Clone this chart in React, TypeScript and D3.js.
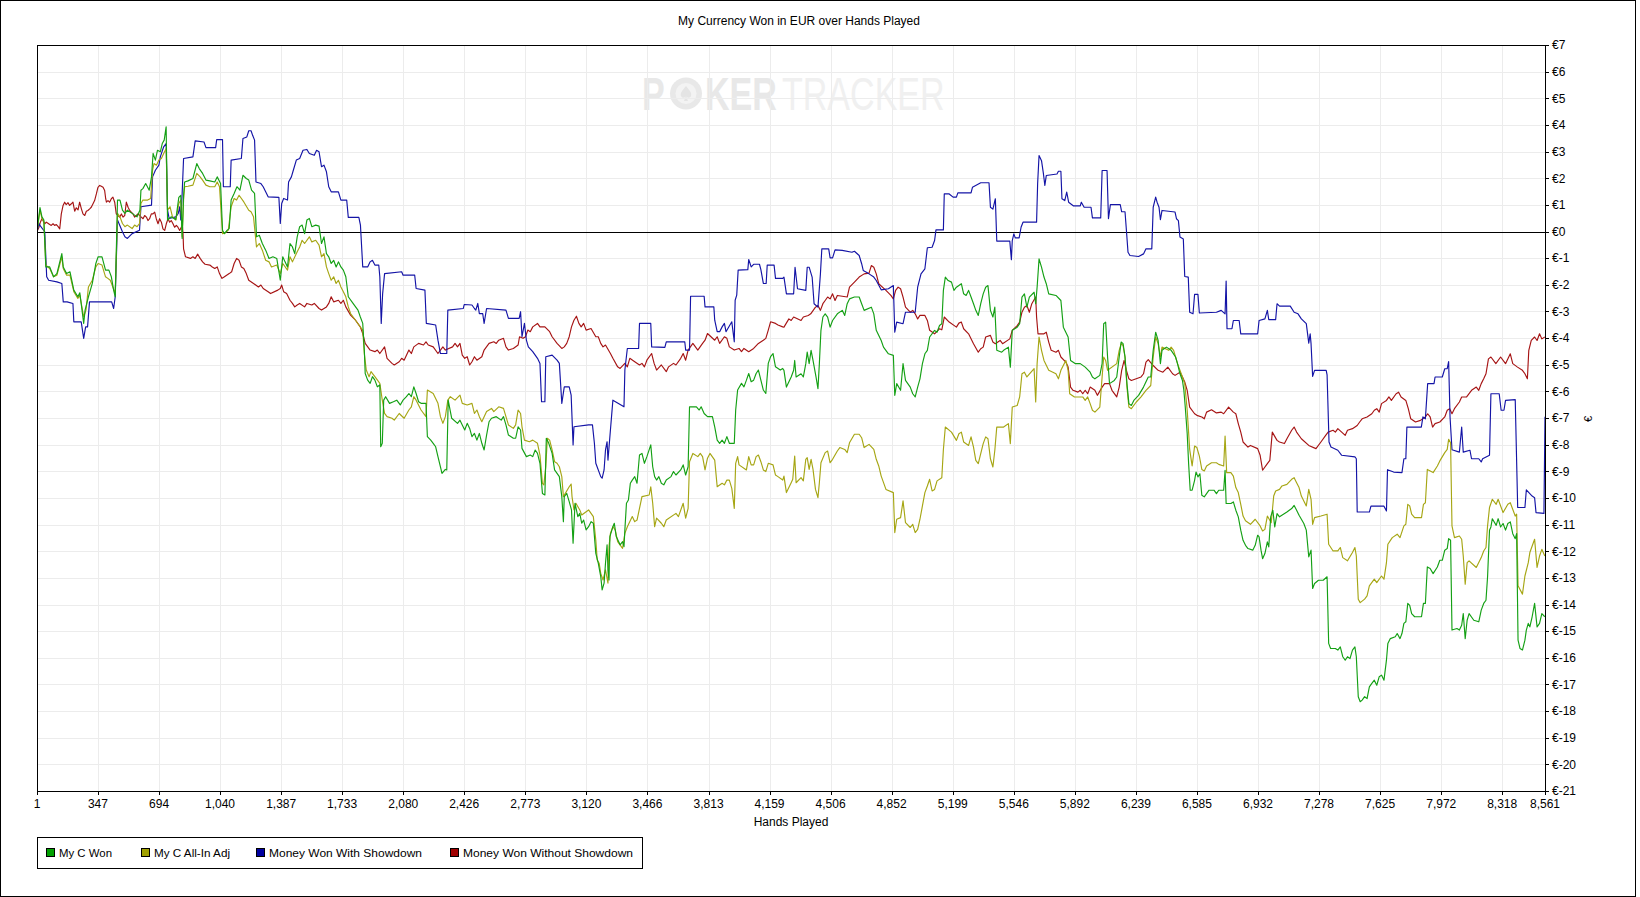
import React from 'react';
import * as d3 from 'd3';

const TITLE = 'My Currency Won in EUR over Hands Played';
const X_TITLE = 'Hands Played';
const X_TICKS = [1, 347, 694, 1040, 1387, 1733, 2080, 2426, 2773, 3120, 3466, 3813, 4159, 4506, 4852, 5199, 5546, 5892, 6239, 6585, 6932, 7278, 7625, 7972, 8318, 8561];
const Y_TICKS = [7, 6, 5, 4, 3, 2, 1, 0, -1, -2, -3, -4, -5, -6, -7, -8, -9, -10, -11, -12, -13, -14, -15, -16, -17, -18, -19, -20, -21];
const SERIES_NAMES = ['My C Won', 'My C All-In Adj', 'Money Won With Showdown', 'Money Won Without Showdown'];
const SERIES_COLORS = ['#14a014', '#a6a614', '#1414a6', '#a61414'];
const LEGEND_COLORS = ['#00a000', '#a0a000', '#0000a0', '#a00000'];

type P = [number, number];

const myCWon: P[] = [
[1,0],[18,0.9],[29,0.55],[40,0.43],[51,-1.33],[73,-1.33],[95,-1.7],[114,-1.58],[142,-0.83],[150,-1.33],[169,-1.58],[188,-1.51],[210,-2.2],[233,-2.45],[244,-2.3],[266,-3.45],[274,-2.95],[293,-2.45],[315,-1.95],[335,-1.2],[348,-0.95],[370,-0.95],[390,-1.45],[409,-1.45],[423,-1.7],[436,-2.2],[445,-2.45],[458,1.18],[472,1.18],[486,0.8],[500,0.68],[514,0.8],[541,0.68],[569,0.55],[585,0.8],[591,1.55],[602,1.61],[618,1.8],[638,1.55],[651,2.05],[660,2.93],[673,2.68],[685,3.05],[701,2.99],[712,3.3],[723,3.43],[734,3.93],[742,0.43],[762,0.55],[789,0.45],[806,1.28],[817,1.36],[825,-0.26],[833,1.36],[839,1.86],[858,1.9],[886,1.99],[908,2.55],[922,2.36],[941,2.18],[960,1.93],[982,1.9],[1010,1.86],[1024,2.05],[1043,1.8],[1054,0.05],[1065,-0.08],[1081,0.05],[1092,0.11],[1103,1.18],[1120,1.43],[1136,1.68],[1153,1.55],[1170,2.11],[1189,1.99],[1203,1.93],[1219,1.55],[1236,1.43],[1247,-0.2],[1263,-0.14],[1280,-0.45],[1299,-0.7],[1318,-1.01],[1340,-0.95],[1362,-1.01],[1382,-1.83],[1396,-0.95],[1409,-1.14],[1423,-1.33],[1437,-0.45],[1451,-0.58],[1464,-0.83],[1478,-0.2],[1492,0.18],[1506,0.24],[1520,-0.08],[1533,0.43],[1547,0.49],[1561,0.18],[1583,0.24],[1602,0.2],[1616,-0.45],[1630,-0.2],[1644,-0.83],[1657,-0.95],[1671,-1.2],[1685,-1.08],[1699,-1.33],[1712,-1.14],[1726,-1.33],[1740,-1.45],[1754,-1.7],[1768,-2.45],[1795,-2.7],[1823,-2.95],[1836,-3.2],[1850,-3.45],[1859,-4.45],[1864,-5.33],[1878,-5.58],[1892,-5.7],[1905,-5.45],[1919,-5.58],[1933,-5.83],[1947,-5.76],[1952,-8.08],[1961,-7.95],[1969,-6.33],[1980,-6.2],[2002,-6.45],[2024,-6.39],[2043,-6.33],[2063,-6.51],[2079,-6.33],[2098,-6.2],[2112,-6.08],[2126,-6.2],[2140,-5.83],[2153,-6.08],[2167,-6.39],[2181,-6.45],[2209,-6.45],[2217,-7.7],[2236,-7.83],[2250,-7.95],[2264,-8.08],[2277,-8.45],[2300,-9.08],[2319,-8.93],[2327,-8.95],[2335,-6.33],[2355,-7.01],[2388,-7.2],[2402,-7.08],[2415,-7.26],[2429,-7.45],[2443,-7.2],[2457,-7.39],[2470,-7.7],[2484,-7.58],[2498,-7.83],[2512,-7.58],[2526,-7.95],[2539,-8.2],[2553,-7.64],[2567,-7.14],[2581,-7.01],[2608,-6.95],[2636,-7.08],[2649,-6.95],[2663,-7.26],[2677,-7.64],[2705,-7.76],[2718,-7.76],[2732,-7.33],[2746,-7.45],[2754,-8.14],[2779,-8.45],[2801,-8.39],[2815,-8.45],[2829,-8.2],[2842,-8.33],[2856,-8.7],[2870,-9.83],[2884,-9.89],[2892,-7.76],[2906,-7.95],[2925,-8.33],[2939,-8.95],[2953,-9.08],[2966,-9.2],[2980,-9.95],[2989,-10.89],[2994,-9.95],[3008,-9.83],[3022,-10.14],[3035,-10.45],[3044,-11.7],[3055,-10.2],[3071,-10.7],[3082,-10.58],[3093,-10.95],[3104,-10.83],[3118,-11.2],[3132,-11.08],[3146,-10.89],[3159,-10.95],[3173,-12.08],[3187,-12.45],[3201,-12.95],[3209,-13.45],[3220,-13.2],[3228,-12.45],[3237,-11.76],[3242,-12.7],[3248,-13.08],[3253,-11.45],[3270,-11.08],[3278,-10.95],[3289,-11.45],[3311,-11.76],[3325,-11.64],[3333,-11.83],[3338,-11.2],[3347,-10.2],[3358,-10.08],[3369,-9.45],[3380,-9.33],[3394,-9.2],[3407,-9.45],[3421,-8.39],[3435,-8.33],[3449,-8.7],[3463,-8.45],[3485,-8.01],[3496,-8.83],[3507,-9.2],[3518,-9.33],[3531,-9.2],[3545,-9.45],[3559,-9.51],[3573,-9.33],[3600,-9.2],[3614,-9.01],[3628,-9.14],[3655,-8.95],[3669,-8.76],[3683,-9.14],[3697,-8.83],[3705,-6.58],[3724,-6.58],[3744,-6.58],[3760,-6.7],[3771,-6.58],[3788,-6.83],[3807,-6.95],[3835,-6.95],[3848,-7.33],[3862,-7.83],[3876,-7.95],[3890,-7.83],[3903,-7.95],[3917,-7.7],[3931,-7.95],[3959,-7.95],[3967,-6.7],[3978,-5.95],[4000,-5.7],[4014,-5.83],[4028,-5.58],[4041,-5.33],[4055,-5.64],[4069,-5.58],[4083,-5.33],[4096,-5.2],[4110,-5.58],[4124,-5.95],[4138,-6.08],[4152,-4.95],[4165,-4.7],[4179,-4.58],[4193,-5.08],[4220,-5.2],[4234,-5.14],
[4241,-5.21],[4255,-5.84],[4282,-5.46],[4296,-5.21],[4302,-4.84],[4310,-5.46],[4338,-5.34],[4351,-5.46],[4365,-4.96],[4373,-4.53],[4384,-4.96],[4395,-4.46],[4406,-4.84],[4423,-5.46],[4434,-5.9],[4442,-4.96],[4451,-3.71],[4462,-3.21],[4475,-3.09],[4489,-3.21],[4503,-3.59],[4517,-3.34],[4544,-3.09],[4572,-2.96],[4586,-3.15],[4600,-2.71],[4613,-2.53],[4641,-2.46],[4668,-2.46],[4682,-2.71],[4696,-2.96],[4737,-2.84],[4751,-3.09],[4765,-3.71],[4793,-4.09],[4806,-4.34],[4834,-4.59],[4862,-4.65],[4870,-6.15],[4881,-5.71],[4903,-5.96],[4917,-4.96],[4931,-5.59],[4958,-5.84],[4972,-6.09],[4986,-6.21],[5000,-5.84],[5013,-5.53],[5027,-4.96],[5041,-4.59],[5055,-4.46],[5068,-3.96],[5096,-3.71],[5110,-3.78],[5124,-3.53],[5137,-3.46],[5146,-2.21],[5157,-1.71],[5173,-1.84],[5192,-1.9],[5206,-2.21],[5220,-2.09],[5248,-1.96],[5261,-2.34],[5275,-2.4],[5289,-2.21],[5303,-2.46],[5317,-2.71],[5330,-2.96],[5344,-3.15],[5358,-2.71],[5372,-2.34],[5386,-2.09],[5399,-2.03],[5413,-2.96],[5427,-3.21],[5438,-2.84],[5449,-4.46],[5477,-4.53],[5488,-4.46],[5515,-4.34],[5526,-5.09],[5537,-3.71],[5565,-3.59],[5579,-3.46],[5592,-2.46],[5606,-2.34],[5620,-2.84],[5634,-2.46],[5661,-2.28],[5670,-2.71],[5678,-2.09],[5689,-1.03],[5703,-1.34],[5717,-1.71],[5730,-1.96],[5744,-2.34],[5785,-2.4],[5813,-2.59],[5827,-3.59],[5854,-3.96],[5868,-4.84],[5896,-4.96],[5923,-4.96],[5951,-5.09],[5979,-5.28],[5992,-5.46],[6006,-5.53],[6034,-5.4],[6047,-4.96],[6056,-3.46],[6067,-3.4],[6078,-4.71],[6089,-5.71],[6116,-5.59],[6130,-5.46],[6144,-4.71],[6155,-4.15],[6166,-4.21],[6177,-4.71],[6188,-5.71],[6199,-6.46],[6213,-6.53],[6227,-6.34],[6254,-6.15],[6282,-5.84],[6309,-5.46],[6323,-5.46],[6337,-4.46],[6351,-3.78],[6365,-4.09],[6378,-4.96],[6387,-4.46],[6412,-4.34],[6439,-4.46],[6464,-4.71],[6475,-4.96],[6489,-5.34],[6503,-5.59],[6511,-5.96],[6519,-6.59],[6530,-7.59],[6538,-8.71],[6547,-9.71],[6558,-9.71],[6572,-9.34],[6580,-9.03],[6591,-9.21],[6602,-9.09],[6613,-9.9],[6627,-9.96],[6654,-9.71],[6682,-9.71],[6696,-9.84],[6709,-9.71],[6737,-9.71],[6745,-8.96],[6751,-10.21],[6778,-10.21],[6792,-10.15],[6806,-10.46],[6820,-10.71],[6834,-11.21],[6847,-11.59],[6861,-11.78],[6875,-11.9],[6902,-11.96],[6916,-11.78],[6930,-11.4],[6938,-11.46],[6949,-11.96],[6958,-12.28],[6971,-12.09],[6985,-11.65],[6993,-11.84],[7004,-10.71],[7016,-10.46],[7027,-11.09],[7040,-10.59],[7054,-10.71],[7096,-10.53],[7123,-10.4],[7137,-10.28],[7151,-10.46],[7165,-10.65],[7192,-10.96],[7206,-11.21],[7220,-12.21],[7233,-11.96],[7242,-13.4],[7253,-13.21],[7275,-13.09],[7302,-13.09],[7324,-12.96],[7333,-15.46],[7344,-15.65],[7371,-15.65],[7385,-15.71],[7399,-15.59],[7413,-15.96],[7427,-16.09],[7440,-15.96],[7454,-16.03],[7468,-15.71],[7482,-15.59],[7490,-15.96],[7501,-17.46],[7512,-17.65],[7523,-17.59],[7537,-17.46],[7551,-17.53],[7564,-17.09],[7578,-16.96],[7592,-16.84],[7606,-17.03],[7620,-16.71],[7633,-16.65],[7647,-16.84],[7661,-16.09],[7669,-15.46],[7683,-15.28],[7711,-15.21],[7722,-15.09],[7738,-15.28],[7749,-15.09],[7760,-14.71],[7771,-14.65],[7782,-13.96],[7793,-14.03],[7804,-14.34],[7821,-14.46],[7860,-14.46],[7871,-13.96],[7882,-13.96],[7893,-12.59],[7909,-12.65],[7926,-12.84],[7950,-12.59],[7964,-12.34],[7978,-12.34],[7992,-11.96],[8006,-11.9],[8014,-11.53],[8025,-11.59],[8033,-14.96],[8061,-14.9],[8075,-14.96],[8088,-14.78],[8097,-14.34],[8108,-15.28],[8119,-14.59],[8130,-14.34],[8157,-14.59],[8185,-14.65],[8199,-14.21],[8213,-13.96],[8226,-13.84],[8235,-12.96],[8246,-11.21],[8254,-11.09],[8262,-10.78],[8284,-11.03],[8295,-10.78],[8309,-11.09],[8323,-10.96],[8337,-11.21],[8350,-10.96],[8364,-10.9],[8378,-11.34],[8392,-11.53],[8400,-11.34],[8408,-15.34],[8419,-15.65],[8433,-15.71],[8447,-15.34],[8455,-14.96],[8466,-14.71],[8475,-14.84],[8488,-14.46],[8502,-13.96],[8516,-14.84],[8530,-14.71],[8543,-14.34],[8560,-14.46]
];

const myCAllInAdj: P[] = [
[1,0],[18,0.8],[29,0.49],[40,0.36],[51,-1.26],[73,-1.39],[95,-1.7],[114,-1.64],[142,-0.95],[150,-1.39],[169,-1.64],[188,-1.64],[210,-2.26],[233,-2.51],[244,-2.39],[266,-3.2],[279,-2.95],[293,-2.08],[315,-1.83],[335,-1.33],[348,-1.2],[370,-1.26],[390,-1.7],[403,-1.76],[417,-1.83],[431,-2.08],[445,-2.33],[458,0.68],[472,0.55],[486,0.3],[500,0.18],[514,0.24],[541,0.11],[555,0.24],[569,0.18],[583,0.3],[591,1.05],[602,1.18],[629,1.18],[646,1.24],[657,2.3],[665,2.55],[679,2.49],[693,2.68],[707,2.74],[720,2.93],[734,3.11],[742,0.8],[756,0.93],[770,0.55],[789,0.43],[806,1.05],[817,1.18],[825,-0.2],[833,1.18],[839,1.68],[858,1.7],[886,1.74],[908,2.18],[927,2.05],[941,1.93],[960,1.74],[982,1.68],[1010,1.68],[1024,1.86],[1037,1.68],[1054,-0.08],[1070,-0.05],[1087,0.05],[1103,0.93],[1120,1.24],[1134,1.18],[1148,1.36],[1175,1.11],[1203,0.8],[1216,0.74],[1230,0.55],[1247,-0.58],[1263,-0.45],[1280,-0.7],[1299,-1.08],[1318,-1.14],[1332,-1.33],[1362,-1.26],[1382,-1.58],[1396,-1.2],[1423,-1.45],[1437,-0.95],[1451,-1.14],[1478,-0.76],[1492,-0.58],[1506,-0.33],[1520,-0.45],[1547,-0.2],[1561,-0.39],[1583,-0.33],[1602,-0.51],[1616,-0.95],[1630,-0.83],[1644,-1.33],[1657,-1.58],[1671,-1.83],[1685,-1.7],[1699,-1.95],[1712,-1.83],[1726,-2.08],[1740,-2.26],[1754,-2.45],[1768,-2.83],[1781,-3.08],[1809,-3.33],[1836,-3.58],[1850,-3.7],[1859,-4.58],[1870,-5.2],[1886,-5.45],[1897,-5.26],[1919,-5.45],[1947,-5.7],[1961,-6.33],[1974,-6.83],[1988,-6.95],[2016,-7.01],[2029,-7.08],[2057,-6.83],[2085,-7.01],[2112,-6.7],[2126,-6.58],[2140,-6.2],[2153,-6.33],[2181,-6.7],[2209,-6.95],[2217,-5.95],[2250,-6.08],[2277,-6.45],[2291,-6.95],[2305,-7.2],[2319,-6.95],[2333,-6.33],[2347,-6.2],[2374,-6.33],[2402,-6.14],[2415,-6.45],[2443,-6.51],[2470,-6.45],[2484,-6.83],[2498,-6.7],[2512,-6.95],[2526,-7.14],[2553,-6.76],[2581,-6.64],[2594,-6.76],[2622,-6.58],[2649,-6.64],[2663,-6.95],[2677,-7.26],[2705,-7.39],[2718,-7.26],[2732,-6.7],[2746,-6.83],[2754,-7.33],[2768,-7.83],[2796,-7.89],[2815,-7.83],[2842,-7.95],[2856,-8.39],[2870,-9.45],[2878,-9.51],[2889,-8.83],[2898,-7.76],[2911,-7.83],[2925,-8.2],[2939,-8.64],[2953,-8.7],[2966,-8.83],[2980,-9.2],[2989,-9.95],[3000,-9.83],[3022,-9.58],[3033,-9.48],[3038,-9.95],[3049,-10.45],[3060,-10.2],[3082,-10.45],[3093,-10.64],[3132,-10.45],[3159,-10.7],[3173,-11.58],[3181,-12.33],[3192,-12.45],[3201,-12.83],[3214,-13.08],[3228,-12.7],[3242,-13.2],[3248,-11.83],[3256,-11.33],[3270,-11.08],[3283,-11.2],[3297,-11.64],[3325,-11.89],[3338,-11.33],[3352,-11.08],[3380,-10.7],[3394,-10.89],[3407,-10.83],[3421,-10.39],[3435,-9.95],[3476,-9.89],[3485,-9.58],[3496,-10.2],[3507,-11.08],[3518,-10.76],[3545,-10.95],[3559,-11.08],[3573,-10.83],[3628,-10.58],[3642,-10.7],[3669,-10.2],[3683,-10.76],[3697,-10.39],[3705,-8.64],[3724,-8.33],[3752,-8.45],[3766,-8.33],[3779,-8.45],[3793,-8.95],[3807,-8.51],[3821,-8.33],[3848,-8.58],[3862,-9.58],[3890,-9.45],[3903,-9.51],[3917,-9.33],[3931,-9.33],[3945,-9.64],[3959,-10.39],[3967,-8.7],[3978,-8.45],[3986,-8.76],[4028,-8.95],[4041,-8.45],[4055,-8.76],[4069,-8.76],[4083,-8.45],[4096,-8.39],[4110,-8.64],[4124,-8.95],[4138,-9.01],[4152,-8.7],[4179,-8.76],[4193,-9.14],[4207,-9.2],[4234,-9.33],
[4241,-9.18],[4255,-9.8],[4282,-9.43],[4291,-9.3],[4302,-8.43],[4310,-9.43],[4338,-9.24],[4351,-9.36],[4365,-8.55],[4373,-8.49],[4384,-8.93],[4395,-8.55],[4406,-8.93],[4420,-9.68],[4434,-9.99],[4442,-9.43],[4451,-8.68],[4475,-8.3],[4489,-8.24],[4503,-8.68],[4517,-8.55],[4544,-8.24],[4558,-8.11],[4586,-8.18],[4600,-8.3],[4613,-7.93],[4641,-7.61],[4668,-7.61],[4682,-7.74],[4696,-8.11],[4724,-7.99],[4751,-8.18],[4765,-8.55],[4779,-8.8],[4793,-9.18],[4820,-9.68],[4862,-9.8],[4870,-11.3],[4881,-10.8],[4903,-10.74],[4917,-10.11],[4931,-10.93],[4958,-11.11],[4972,-10.99],[4986,-11.3],[5000,-11.18],[5013,-10.8],[5027,-10.3],[5041,-9.8],[5055,-9.55],[5068,-9.3],[5082,-9.74],[5096,-9.68],[5110,-9.36],[5137,-9.24],[5146,-8.18],[5157,-7.34],[5192,-7.53],[5220,-7.84],[5234,-7.59],[5248,-7.53],[5261,-7.9],[5289,-8.03],[5303,-7.71],[5317,-8.09],[5330,-8.59],[5344,-8.71],[5358,-8.34],[5372,-7.96],[5386,-7.71],[5399,-7.78],[5413,-8.53],[5427,-8.84],[5438,-8.21],[5449,-7.34],[5488,-7.34],[5515,-7.21],[5526,-7.96],[5537,-6.59],[5565,-6.53],[5579,-6.21],[5592,-5.34],[5606,-5.28],[5620,-5.46],[5661,-5.15],[5670,-6.4],[5678,-4.96],[5689,-3.96],[5703,-4.46],[5717,-4.84],[5744,-5.21],[5785,-5.34],[5799,-5.53],[5813,-5.21],[5841,-4.84],[5854,-5.21],[5863,-6.09],[5890,-6.21],[5937,-6.21],[5951,-6.34],[5965,-6.21],[5979,-6.46],[5992,-6.71],[6006,-6.78],[6034,-6.59],[6047,-5.46],[6056,-4.71],[6067,-4.84],[6078,-5.21],[6130,-4.96],[6144,-4.46],[6155,-4.21],[6166,-4.28],[6177,-4.71],[6188,-5.84],[6199,-6.59],[6213,-6.65],[6241,-6.4],[6268,-6.21],[6296,-5.96],[6323,-5.78],[6337,-4.71],[6351,-3.96],[6365,-4.21],[6378,-4.71],[6387,-4.34],[6425,-4.46],[6439,-4.34],[6453,-4.46],[6475,-4.96],[6503,-5.46],[6516,-5.71],[6530,-6.71],[6544,-8.18],[6558,-8.8],[6572,-8.05],[6585,-8.11],[6599,-8.43],[6613,-8.93],[6627,-8.99],[6640,-8.8],[6668,-8.68],[6696,-8.68],[6709,-8.74],[6737,-8.8],[6745,-7.68],[6754,-9.05],[6778,-9.05],[6792,-9.18],[6806,-9.61],[6820,-9.8],[6834,-10.24],[6847,-10.68],[6861,-10.86],[6889,-10.99],[6916,-10.8],[6944,-11.05],[6958,-11.24],[6971,-11.18],[6985,-10.68],[7007,-10.93],[7021,-9.93],[7032,-9.74],[7054,-9.68],[7068,-9.55],[7096,-9.49],[7123,-9.3],[7137,-9.24],[7151,-9.43],[7165,-9.61],[7178,-9.93],[7206,-10.3],[7220,-9.68],[7233,-10.05],[7242,-10.99],[7253,-10.74],[7289,-10.68],[7324,-10.61],[7333,-11.74],[7358,-11.99],[7385,-11.99],[7399,-11.86],[7413,-12.24],[7440,-12.36],[7468,-12.05],[7482,-11.86],[7490,-12.18],[7501,-13.8],[7512,-13.93],[7537,-13.8],[7551,-13.68],[7564,-13.3],[7592,-13.05],[7606,-13.18],[7633,-12.93],[7647,-13.05],[7661,-12.43],[7669,-11.74],[7694,-11.49],[7722,-11.36],[7738,-11.49],[7760,-11.05],[7771,-10.99],[7782,-10.24],[7793,-10.3],[7804,-10.61],[7821,-10.74],[7860,-10.74],[7871,-10.24],[7882,-10.18],[7893,-8.93],[7926,-9.05],[7950,-8.8],[7964,-8.61],[7992,-8.3],[8006,-8.18],[8014,-7.8],[8025,-7.93],[8033,-11.05],[8047,-11.49],[8075,-11.43],[8088,-11.55],[8097,-12.18],[8108,-13.24],[8119,-12.43],[8130,-12.36],[8171,-12.61],[8199,-12.24],[8213,-11.99],[8226,-11.86],[8235,-11.05],[8246,-10.36],[8262,-10.05],[8284,-10.24],[8295,-10.05],[8323,-10.55],[8350,-10.24],[8364,-10.18],[8392,-10.68],[8400,-10.61],[8408,-13.3],[8433,-13.61],[8447,-12.93],[8466,-12.43],[8475,-12.05],[8502,-11.55],[8516,-12.61],[8530,-12.18],[8543,-11.93],[8560,-12.18]
];

const wonWithShowdown: P[] = [
[1,0],[12,0.3],[23,0.18],[45,-0.01],[56,-1.7],[67,-1.83],[114,-1.89],[142,-1.95],[150,-2.64],[172,-2.64],[205,-2.7],[210,-3.39],[252,-3.39],[266,-4.01],[277,-3.58],[288,-3.58],[299,-2.64],[425,-2.64],[436,-2.89],[445,-2.45],[458,0.43],[486,-0.01],[500,-0.2],[514,-0.26],[541,-0.08],[583,0.05],[591,0.93],[651,0.99],[657,2.05],[673,2.3],[693,2.49],[701,2.8],[720,3.18],[734,3.3],[742,0.8],[751,0.49],[789,0.55],[803,0.68],[811,0.93],[817,0.43],[825,1.43],[833,2.74],[886,2.8],[899,3.4],[949,3.36],[960,3.15],[1015,3.15],[1021,3.45],[1054,3.45],[1059,1.68],[1098,1.68],[1103,2.68],[1161,2.74],[1170,3.49],[1192,3.55],[1203,3.78],[1216,3.78],[1225,3.61],[1236,3.43],[1244,1.86],[1272,1.8],[1285,1.68],[1299,1.49],[1313,1.3],[1374,1.28],[1382,0.3],[1390,1.05],[1401,1.24],[1423,1.18],[1429,1.86],[1445,2.05],[1456,2.3],[1473,2.68],[1492,2.74],[1511,3.05],[1533,3.08],[1547,2.93],[1575,2.86],[1588,3.05],[1602,2.99],[1616,2.43],[1630,2.49],[1644,2.24],[1657,1.68],[1671,1.49],[1712,1.49],[1726,1.18],[1759,1.18],[1768,0.53],[1828,0.53],[1837,0.24],[1850,-1.33],[1878,-1.33],[1892,-1.14],[1905,-1.08],[1919,-1.26],[1941,-1.26],[1947,-1.7],[1955,-3.45],[1963,-2.33],[1974,-1.58],[2071,-1.51],[2079,-1.64],[2145,-1.64],[2153,-2.14],[2203,-2.2],[2211,-3.45],[2264,-3.51],[2277,-4.08],[2291,-4.58],[2327,-4.58],[2333,-2.95],[2421,-2.89],[2426,-2.74],[2470,-2.76],[2484,-2.89],[2492,-2.95],[2503,-2.7],[2512,-3.08],[2531,-3.08],[2539,-3.45],[2553,-2.89],[2663,-2.95],[2677,-3.26],[2738,-3.26],[2746,-3.01],[2754,-3.95],[2768,-3.45],[2779,-4.08],[2790,-4.33],[2815,-4.51],[2842,-4.76],[2856,-4.95],[2865,-6.39],[2884,-6.39],[2889,-4.7],[2925,-4.64],[2953,-4.83],[2966,-4.95],[2980,-6.45],[2994,-5.83],[3022,-5.83],[3033,-6.14],[3044,-8.01],[3049,-7.33],[3132,-7.26],[3154,-7.26],[3165,-7.95],[3173,-8.7],[3201,-9.2],[3209,-9.26],[3220,-8.95],[3228,-8.2],[3237,-7.89],[3242,-8.58],[3256,-7.45],[3270,-6.33],[3333,-6.58],[3338,-5.2],[3352,-4.39],[3416,-4.39],[3421,-3.45],[3485,-3.45],[3490,-4.33],[3565,-4.35],[3573,-4.14],[3678,-4.14],[3683,-4.45],[3705,-4.45],[3711,-2.43],[3788,-2.43],[3793,-2.83],[3843,-2.83],[3848,-3.33],[3862,-3.76],[3876,-3.76],[3890,-3.58],[3903,-3.45],[3912,-3.76],[3945,-3.39],[3959,-4.14],[3964,-2.58],[3973,-2.39],[3981,-1.45],[4036,-1.43],[4041,-1.05],[4055,-1.33],[4069,-1.23],[4102,-1.23],[4110,-1.43],[4124,-1.95],[4140,-1.95],[4146,-1.26],[4185,-1.26],[4193,-1.76],[4234,-1.76],
[4241,-1.71],[4255,-2.34],[4296,-2.34],[4304,-1.34],[4318,-2.15],[4365,-2.21],[4373,-1.34],[4384,-1.34],[4401,-1.71],[4412,-2.71],[4434,-2.84],[4448,-1.59],[4456,-0.65],[4495,-0.65],[4503,-0.99],[4517,-0.99],[4531,-0.69],[4572,-0.71],[4627,-0.78],[4641,-0.74],[4668,-0.9],[4682,-1.21],[4691,-1.46],[4724,-1.59],[4751,-1.71],[4765,-1.84],[4793,-2.19],[4834,-2.15],[4862,-2.03],[4870,-3.78],[4881,-3.4],[4917,-3.46],[4931,-3.03],[4986,-3.03],[5000,-2.09],[5019,-1.59],[5041,-1.4],[5055,-0.61],[5082,-0.59],[5096,-0.34],[5104,0.06],[5146,0.06],[5151,1.41],[5179,1.41],[5201,1.29],[5220,1.29],[5228,1.45],[5303,1.45],[5311,1.66],[5358,1.83],[5405,1.83],[5413,0.91],[5427,0.84],[5441,1.23],[5449,-0.36],[5523,-0.36],[5532,-1.06],[5537,-0.34],[5546,-0.09],[5554,-0.24],[5576,-0.24],[5587,0.16],[5598,0.35],[5675,0.35],[5681,1.79],[5689,2.85],[5703,2.66],[5714,2.16],[5722,1.73],[5730,2.1],[5791,2.16],[5799,2.26],[5813,2.26],[5819,1.23],[5835,1.16],[5846,1.48],[5857,1.1],[5885,0.96],[5923,0.96],[5929,1.1],[5945,0.91],[5984,0.91],[5992,0.51],[6039,0.51],[6047,2.29],[6075,2.29],[6083,0.48],[6094,1.01],[6150,1.01],[6158,0.74],[6177,0.74],[6185,0.04],[6194,-0.78],[6205,-0.9],[6254,-0.94],[6282,-0.84],[6296,-0.65],[6329,-0.65],[6337,0.91],[6351,1.29],[6359,1.1],[6370,0.91],[6378,0.44],[6387,0.79],[6461,0.73],[6469,0.48],[6480,0.41],[6489,-0.21],[6508,-0.28],[6516,-1.69],[6536,-1.71],[6544,-3.03],[6563,-3.09],[6572,-2.36],[6591,-2.36],[6599,-3.06],[6696,-3.03],[6723,-2.96],[6745,-3.09],[6751,-1.86],[6756,-3.65],[6784,-3.65],[6792,-3.34],[6825,-3.34],[6834,-3.84],[6930,-3.84],[6938,-3.34],[6971,-3.28],[6985,-2.96],[6993,-3.31],[7032,-3.31],[7040,-2.71],[7054,-2.8],[7115,-2.8],[7137,-3.03],[7159,-3.09],[7178,-3.28],[7206,-3.46],[7220,-4.19],[7228,-3.84],[7233,-4.21],[7242,-5.44],[7253,-5.21],[7319,-5.21],[7324,-5.38],[7335,-7.9],[7346,-8.09],[7385,-8.21],[7407,-8.4],[7482,-8.46],[7490,-8.53],[7495,-10.53],[7564,-10.53],[7573,-10.31],[7647,-10.31],[7661,-10.49],[7667,-8.94],[7702,-9.03],[7749,-9.05],[7760,-8.53],[7771,-8.53],[7777,-7.34],[7859,-7.34],[7868,-6.96],[7882,-7.03],[7895,-5.71],[7931,-5.71],[7937,-5.46],[7978,-5.46],[7992,-5.15],[8006,-5.15],[8014,-4.88],[8022,-6.96],[8033,-8.19],[8075,-8.28],[8088,-7.34],[8097,-8.28],[8135,-8.21],[8144,-8.53],[8185,-8.53],[8199,-8.65],[8207,-8.53],[8246,-8.4],[8254,-6.09],[8301,-6.09],[8312,-6.71],[8328,-6.71],[8337,-6.34],[8392,-6.31],[8406,-10.36],[8447,-10.36],[8455,-9.7],[8488,-9.93],[8502,-9.99],[8510,-10.55],[8555,-10.58],[8561,-6.95]
];

const wonWithoutShowdown: P[] = [
[1,0],[12,0.16],[20,0.35],[29,0.48],[35,0.41],[45,0.29],[54,0.35],[63,0.31],[73,0.26],[82,0.23],[92,0.29],[101,0.23],[111,0.26],[120,0.19],[130,0.1],[139,0.66],[149,0.98],[158,1.1],[167,1.01],[177,1.08],[186,0.98],[196,1.04],[205,1.1],[215,0.76],[224,0.89],[234,0.81],[243,1.1],[253,0.85],[262,0.66],[272,0.6],[281,0.76],[290,0.79],[300,0.85],[309,0.91],[319,1.04],[328,1.16],[338,1.41],[347,1.66],[357,1.73],[366,1.7],[376,1.66],[385,1.54],[391,1.23],[395,1.1],[404,1.16],[413,1.1],[423,1.23],[432,1.29],[442,1.1],[451,0.66],[461,0.6],[470,0.54],[480,0.66],[489,0.54],[499,0.6],[508,1.1],[518,0.91],[527,0.79],[536,0.73],[546,0.66],[555,0.54],[565,0.6],[574,0.66],[584,0.6],[593,0.54],[603,0.48],[612,0.6],[622,0.54],[631,0.41],[640,0.48],[650,0.66],[659,0.66],[669,0.73],[678,0.48],[688,0.29],[697,0.48],[707,0.35],[716,0.1],[726,0.04],[735,0.29],[745,0.48],[754,0.35],[763,0.41],[773,0.29],[782,0.16],[792,0.23],[801,0.16],[811,0.04],[820,0.16],[826,0.23],[830,-0.09],[833,-0.65],[844,-0.95],[872,-1.01],[886,-0.95],[899,-1.01],[913,-0.85],[927,-1.01],[941,-1.14],[955,-1.23],[982,-1.26],[996,-1.33],[1010,-1.39],[1024,-1.33],[1037,-1.58],[1051,-1.76],[1065,-1.7],[1092,-1.58],[1106,-1.51],[1120,-1.2],[1134,-1.01],[1148,-1.08],[1161,-1.33],[1175,-1.39],[1189,-1.58],[1203,-1.83],[1230,-1.95],[1258,-2.08],[1272,-2.01],[1285,-2.14],[1313,-2.26],[1327,-2.33],[1368,-2.2],[1382,-2.14],[1390,-2.01],[1401,-2.26],[1418,-2.33],[1437,-2.58],[1451,-2.7],[1464,-2.83],[1478,-2.76],[1492,-2.7],[1520,-2.83],[1533,-2.7],[1561,-2.76],[1575,-2.7],[1602,-2.89],[1616,-2.95],[1644,-2.83],[1657,-2.7],[1671,-2.45],[1685,-2.64],[1712,-2.58],[1726,-2.7],[1740,-2.58],[1754,-2.83],[1781,-3.14],[1809,-3.33],[1836,-3.58],[1850,-3.83],[1864,-4.2],[1892,-4.45],[1919,-4.51],[1933,-4.45],[1947,-4.58],[1974,-4.33],[1988,-4.76],[2016,-4.95],[2029,-5.01],[2057,-4.89],[2071,-4.76],[2085,-4.83],[2112,-4.45],[2126,-4.58],[2140,-4.33],[2167,-4.2],[2195,-4.26],[2209,-4.14],[2222,-4.26],[2250,-4.33],[2277,-4.58],[2305,-4.33],[2319,-4.45],[2360,-4.33],[2374,-4.2],[2388,-4.33],[2402,-4.2],[2415,-4.64],[2429,-4.76],[2443,-4.7],[2457,-5.01],[2470,-4.89],[2484,-4.7],[2498,-4.83],[2526,-4.7],[2539,-4.45],[2567,-4.2],[2594,-4.14],[2608,-4.2],[2622,-4.08],[2649,-4.01],[2663,-4.33],[2677,-4.45],[2705,-4.39],[2732,-4.26],[2740,-3.95],[2760,-4.01],[2774,-3.95],[2787,-3.7],[2801,-3.76],[2815,-3.58],[2842,-3.45],[2856,-3.58],[2884,-3.58],[2911,-3.76],[2925,-3.95],[2953,-4.2],[2980,-4.39],[2994,-4.33],[3008,-4.2],[3022,-3.95],[3035,-3.58],[3049,-3.33],[3063,-3.18],[3077,-3.45],[3090,-3.58],[3104,-3.45],[3118,-3.7],[3146,-3.64],[3173,-3.95],[3187,-3.95],[3201,-4.2],[3214,-4.33],[3228,-4.26],[3256,-4.58],[3270,-4.76],[3297,-5.08],[3311,-5.14],[3338,-4.95],[3352,-5.08],[3366,-4.76],[3394,-4.89],[3421,-5.01],[3435,-4.95],[3449,-5.08],[3463,-4.83],[3490,-4.58],[3504,-4.95],[3518,-5.2],[3545,-5.01],[3573,-5.26],[3586,-5.08],[3614,-4.95],[3628,-5.01],[3655,-4.76],[3669,-4.58],[3683,-4.83],[3697,-4.45],[3724,-4.2],[3752,-4.45],[3779,-4.2],[3793,-4.08],[3807,-3.83],[3848,-4.08],[3862,-3.95],[3876,-4.2],[3903,-3.95],[3917,-4.01],[3931,-4.33],[3959,-4.45],[3986,-4.39],[4000,-4.51],[4014,-4.39],[4041,-4.51],[4069,-4.39],[4096,-4.2],[4124,-4.08],[4138,-4.01],[4152,-3.7],[4165,-3.39],[4193,-3.45],[4207,-3.51],[4234,-3.58],
[4241,-3.59],[4269,-3.28],[4282,-3.34],[4296,-3.21],[4338,-3.34],[4351,-3.21],[4379,-3.15],[4393,-3.09],[4420,-2.84],[4434,-2.78],[4448,-2.96],[4462,-2.71],[4475,-2.59],[4489,-2.46],[4503,-2.53],[4517,-2.34],[4531,-2.59],[4544,-2.4],[4600,-2.46],[4613,-2.09],[4641,-1.9],[4668,-1.71],[4696,-1.59],[4724,-1.56],[4737,-1.28],[4751,-1.34],[4765,-1.59],[4779,-1.96],[4820,-2.21],[4848,-2.4],[4862,-2.53],[4875,-2.21],[4889,-2.09],[4903,-2.15],[4917,-2.46],[4931,-2.84],[4958,-3.03],[4972,-2.96],[4986,-3.09],[5000,-3.28],[5013,-3.15],[5041,-3.15],[5055,-3.34],[5068,-3.71],[5096,-3.84],[5124,-3.65],[5137,-3.69],[5151,-3.21],[5179,-3.4],[5220,-3.59],[5234,-3.44],[5248,-3.4],[5261,-3.65],[5289,-3.84],[5317,-4.21],[5344,-4.53],[5358,-4.4],[5372,-4.34],[5386,-3.96],[5413,-3.9],[5427,-4.15],[5441,-4.21],[5468,-4.09],[5482,-4.21],[5523,-4.03],[5537,-3.71],[5565,-3.53],[5579,-3.4],[5592,-3.03],[5606,-2.84],[5620,-2.78],[5634,-3.03],[5648,-2.71],[5670,-2.46],[5675,-3.21],[5683,-3.84],[5717,-3.84],[5730,-3.78],[5744,-4.15],[5758,-4.46],[5785,-4.53],[5799,-4.46],[5813,-4.71],[5841,-4.9],[5854,-5.09],[5868,-5.84],[5882,-5.96],[5910,-6.03],[5923,-5.96],[5937,-6.09],[5951,-5.96],[5965,-6.09],[5979,-5.84],[6006,-5.96],[6020,-6.15],[6047,-5.84],[6061,-5.71],[6089,-5.71],[6103,-5.96],[6130,-6.21],[6144,-5.84],[6158,-5.21],[6172,-4.84],[6185,-5.21],[6199,-5.53],[6213,-5.59],[6268,-5.46],[6282,-5.34],[6296,-4.9],[6309,-4.81],[6337,-5.03],[6365,-5.21],[6392,-5.28],[6420,-5.09],[6447,-5.34],[6461,-5.4],[6489,-5.28],[6503,-5.46],[6516,-5.65],[6530,-5.96],[6544,-6.59],[6572,-6.84],[6585,-6.9],[6613,-6.96],[6627,-7.03],[6640,-6.78],[6668,-6.69],[6696,-6.81],[6723,-6.78],[6737,-6.84],[6765,-6.59],[6792,-6.78],[6806,-6.84],[6820,-7.21],[6834,-7.53],[6847,-7.9],[6875,-8.09],[6889,-8.03],[6930,-8.15],[6944,-8.4],[6958,-8.96],[6985,-8.71],[6999,-8.59],[7013,-7.53],[7040,-7.84],[7054,-7.9],[7082,-7.96],[7096,-7.78],[7123,-7.46],[7137,-7.34],[7151,-7.53],[7178,-7.78],[7220,-8.03],[7261,-8.15],[7289,-7.9],[7316,-7.65],[7330,-7.53],[7358,-7.46],[7371,-7.53],[7385,-7.4],[7427,-7.65],[7440,-7.46],[7468,-7.4],[7495,-7.28],[7509,-7.15],[7523,-7.03],[7551,-6.96],[7578,-6.84],[7592,-6.71],[7606,-6.65],[7620,-6.78],[7633,-6.46],[7661,-6.34],[7675,-6.21],[7689,-6.34],[7716,-6.09],[7730,-6.03],[7744,-6.21],[7771,-6.34],[7785,-6.65],[7799,-7.03],[7826,-7.15],[7854,-7.09],[7882,-6.96],[7895,-6.84],[7909,-6.96],[7923,-7.34],[7937,-7.21],[7964,-7.15],[7992,-6.96],[8006,-6.71],[8020,-6.65],[8033,-6.84],[8047,-6.65],[8075,-6.4],[8088,-6.21],[8116,-6.21],[8144,-5.96],[8171,-5.84],[8185,-5.96],[8199,-5.71],[8213,-5.53],[8226,-5.34],[8240,-4.78],[8254,-4.71],[8282,-4.96],[8309,-4.71],[8337,-4.96],[8364,-4.59],[8378,-4.96],[8405,-5.09],[8433,-5.21],[8447,-5.34],[8461,-5.53],[8469,-4.46],[8483,-4.09],[8502,-3.96],[8516,-4.09],[8530,-3.84],[8543,-4.03],[8560,-3.96]
];

const SERIES_DATA: P[][] = [myCWon, myCAllInAdj, wonWithShowdown, wonWithoutShowdown];

const W = 1640;
const H = 897;
const M = { left: 37, right: 1545, top: 45, bottom: 791 };
const FONT = '"Liberation Sans", Arial, sans-serif';

export default function App() {
  const x = d3.scaleLinear().domain([1, 8561]).range([M.left, M.right]);
  const y = d3.scaleLinear().domain([-21, 7]).range([M.bottom, M.top]);
  const line = d3.line<P>().x((d) => x(d[0])).y((d) => y(d[1]));
  const fmt = d3.format(',');
  const legendX = [46, 141, 256, 450];
  const legendTextW = [53, 76, 153, 170];
  const WM_SX = 0.74;

  return (
    <svg width={W} height={H} style={{ position: 'absolute', left: 0, top: 0, background: '#fff' }} fontFamily={FONT}>
      <rect x={0} y={0} width={W} height={H} fill="#fff" />
      <rect x={0.5} y={0.5} width={1635} height={896} fill="none" stroke="#000" strokeWidth={1} />
      <text x={799} y={25} textAnchor="middle" fontSize={12} fill="#000">{TITLE}</text>

      {/* watermark */}
      <g>
        <circle cx={686} cy={93.5} r={16} fill="#e8e8e8" />
        <circle cx={686} cy={93.5} r={10.5} fill="#f3f3f3" />
        <path d="M686,86 C682,91 680,93 681,96 C682,98.5 685,98 686,96 C687,98 690,98.5 691,96 C692,93 690,91 686,86 Z M686,96 L684,101 L688,101 Z" fill="#e4e4e4" />
        <text y={0} fontSize={46} transform={`translate(0,110) scale(${WM_SX},1)`}>
          <tspan x={642 / WM_SX} fontWeight="bold" fill="#e8e8e8">P</tspan>
          <tspan x={705 / WM_SX} fontWeight="bold" fill="#e8e8e8">KER</tspan>
          <tspan x={782 / WM_SX} fontWeight="normal" fill="#f0f0f0">TRACKER</tspan>
        </text>
      </g>

      {/* grid */}
      <g stroke="#ececec" strokeWidth={1}>
        {X_TICKS.map((t) => (
          <line key={'gx' + t} x1={Math.round(x(t)) + 0.5} x2={Math.round(x(t)) + 0.5} y1={M.top} y2={M.bottom} />
        ))}
        {Y_TICKS.map((t) => (
          <line key={'gy' + t} x1={M.left} x2={M.right} y1={Math.round(y(t)) + 0.5} y2={Math.round(y(t)) + 0.5} />
        ))}
      </g>
      <line x1={M.left} x2={M.right} y1={Math.round(y(0)) + 0.5} y2={Math.round(y(0)) + 0.5} stroke="#000" strokeWidth={1} />

      <defs>
        <clipPath id="plotclip">
          <rect x={M.left} y={M.top} width={M.right - M.left} height={M.bottom - M.top} />
        </clipPath>
      </defs>
      <g clipPath="url(#plotclip)" fill="none" strokeWidth={1.15} strokeLinejoin="round">
        {[3, 2, 1, 0].map((i) => (
          <path key={'s' + i} d={line(SERIES_DATA[i]) || ''} stroke={SERIES_COLORS[i]} />
        ))}
      </g>

      <rect x={M.left + 0.5} y={M.top + 0.5} width={M.right - M.left} height={M.bottom - M.top} fill="none" stroke="#000" strokeWidth={1} />

      {/* x axis */}
      <g fontSize={12} fill="#000">
        {X_TICKS.map((t) => (
          <g key={'xt' + t}>
            <line x1={Math.round(x(t)) + 0.5} x2={Math.round(x(t)) + 0.5} y1={M.bottom} y2={M.bottom + 4} stroke="#000" />
            <text x={x(t)} y={808} textAnchor="middle">{fmt(t)}</text>
          </g>
        ))}
      </g>
      <text x={791} y={826} textAnchor="middle" fontSize={12} fill="#000">{X_TITLE}</text>

      {/* y axis right */}
      <g fontSize={12} fill="#000">
        {Y_TICKS.map((t) => (
          <g key={'yt' + t}>
            <line x1={M.right} x2={M.right + 4} y1={Math.round(y(t)) + 0.5} y2={Math.round(y(t)) + 0.5} stroke="#000" />
            <text x={M.right + 7} y={y(t)} dy="0.36em">{'€' + t}</text>
          </g>
        ))}
      </g>
      <text x={1588} y={419} fontSize={11} textAnchor="middle" dy="0.35em" transform="rotate(-90 1588 419)">€</text>

      {/* legend */}
      <rect x={37.5} y={837.5} width={605} height={31} fill="#fff" stroke="#000" strokeWidth={1} />
      {SERIES_NAMES.map((n, i) => (
        <g key={'lg' + i}>
          <rect x={legendX[i] + 0.5} y={848.5} width={8} height={8} fill={LEGEND_COLORS[i]} stroke="#000" strokeWidth={1} />
          <text x={legendX[i] + 13} y={857} fontSize={11.5} fill="#000" textLength={legendTextW[i]} lengthAdjust="spacingAndGlyphs">{n}</text>
        </g>
      ))}
    </svg>
  );
}
